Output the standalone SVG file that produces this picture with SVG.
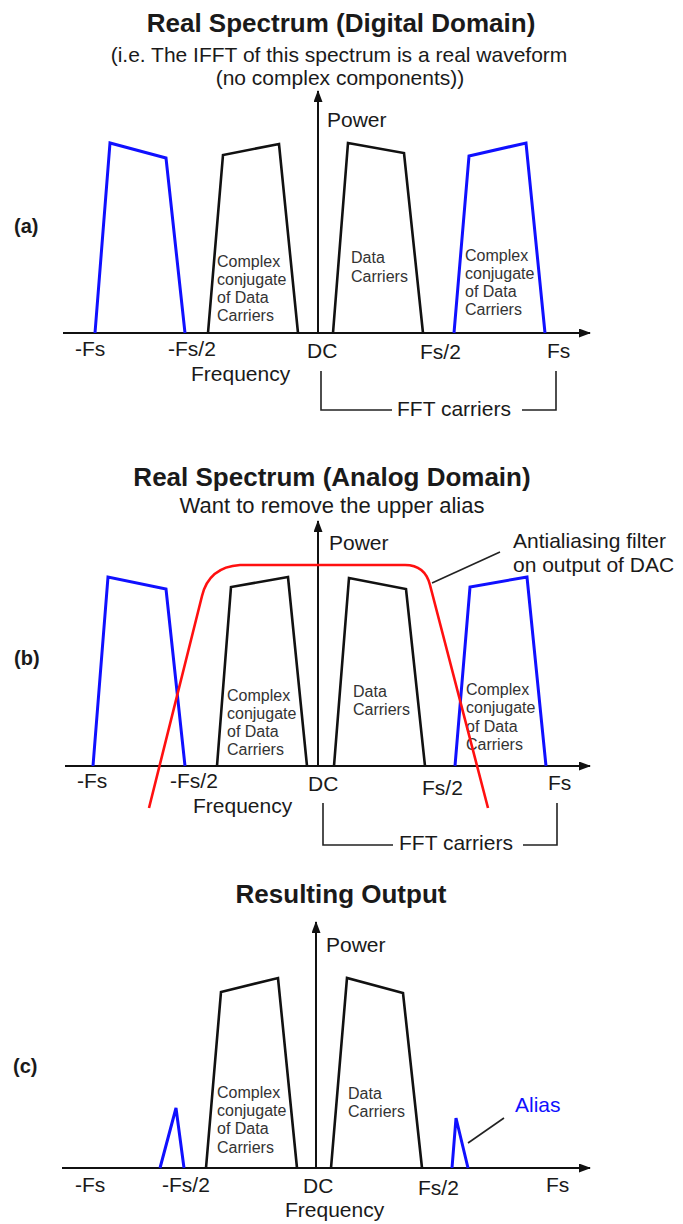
<svg xmlns="http://www.w3.org/2000/svg" width="683" height="1224" viewBox="0 0 683 1224">
<defs>
<marker id="arr" markerWidth="12" markerHeight="10" refX="11" refY="4.5" orient="auto" markerUnits="userSpaceOnUse">
<path d="M0,0 L12,4.5 L0,9 z" fill="#111"/>
</marker>
<style>
text{font-family:"Liberation Sans",Arial,Helvetica,sans-serif;fill:#1a1a1a}
.title{font-size:26px;font-weight:bold;text-anchor:middle}
.sub{font-size:22px;text-anchor:middle}
.sub2{font-size:21px;text-anchor:middle}
.lab{font-size:21px}
.pl{font-size:20px;font-weight:bold}
.sm{font-size:16px;fill:#333}
.blt{font-size:21px;fill:#1010ff}
.axis{stroke:#111;stroke-width:2;fill:none}
.blk{stroke:#111;stroke-width:2.6;fill:none;stroke-linejoin:miter}
.blu{stroke:#1010ff;stroke-width:3;fill:none;stroke-linejoin:miter}
.red{stroke:#ff1010;stroke-width:2.6;fill:none}
.thin{stroke:#222;stroke-width:1.6;fill:none}
</style>
</defs>
<rect width="683" height="1224" fill="#fff"/>

<!-- Panel (a) -->
<g id="panel-a">
<text class="title" x="341" y="32">Real Spectrum (Digital Domain)</text>
<text class="sub2" x="339" y="62">(i.e. The IFFT of this spectrum is a real waveform</text>
<text class="sub2" x="340" y="85">(no complex components))</text>
<text class="pl" x="14" y="233">(a)</text>
<g id="a-axes">
<line class="axis" x1="63" y1="333" x2="590" y2="333" marker-end="url(#arr)"/>
<line class="axis" x1="318" y1="334" x2="318" y2="91" marker-end="url(#arr)"/>
<text class="lab" x="327" y="127">Power</text>
</g>
<g id="a-alias-left"><polyline class="blu" points="95,333 110,143 166,158 185,333"/></g>
<g id="a-conj"><polyline class="blk" points="208,333 223,155 279,144 298,333"/>
<text class="sm" x="217" y="267">Complex</text><text class="sm" x="217" y="285">conjugate</text><text class="sm" x="217" y="303">of Data</text><text class="sm" x="217" y="321">Carriers</text></g>
<g id="a-data"><polyline class="blk" points="333,333 348,143 404,153 423,333"/>
<text class="sm" x="351" y="263">Data</text><text class="sm" x="351" y="282">Carriers</text></g>
<g id="a-alias-right"><polyline class="blu" points="454,333 469,156 526,143 545,333"/>
<text class="sm" x="465" y="261">Complex</text><text class="sm" x="465" y="279">conjugate</text><text class="sm" x="465" y="297">of Data</text><text class="sm" x="465" y="315">Carriers</text></g>
<g id="a-labels">
<text class="lab" x="75" y="356">-Fs</text>
<text class="lab" x="168" y="356">-Fs/2</text>
<text class="lab" x="307" y="358">DC</text>
<text class="lab" x="420" y="359">Fs/2</text>
<text class="lab" x="547" y="358">Fs</text>
<text class="lab" x="191" y="381">Frequency</text>
<text class="lab" x="397" y="416">FFT carriers</text>
</g>
</g>

<!-- Panel (b) -->
<g id="panel-b">
<text class="title" x="332" y="486">Real Spectrum (Analog Domain)</text>
<text class="sub" x="332" y="513">Want to remove the upper alias</text>
<text class="pl" x="14" y="665">(b)</text>
<g id="b-axes">
<line class="axis" x1="65" y1="766" x2="590" y2="766" marker-end="url(#arr)"/>
<line class="axis" x1="318" y1="767" x2="318" y2="521" marker-end="url(#arr)"/>
<text class="lab" x="329" y="550">Power</text>
</g>
<g id="b-alias-left"><polyline class="blu" points="93,766 108,577 166,589 185,766"/></g>
<g id="b-conj"><polyline class="blk" points="217,766 231,587 288,577 307,766"/>
<text class="sm" x="227" y="701">Complex</text><text class="sm" x="227" y="719">conjugate</text><text class="sm" x="227" y="737">of Data</text><text class="sm" x="227" y="755">Carriers</text></g>
<g id="b-data"><polyline class="blk" points="334,766 349,578 406,589 425,766"/>
<text class="sm" x="353" y="697">Data</text><text class="sm" x="353" y="715">Carriers</text></g>
<g id="b-alias-right"><polyline class="blu" points="455,766 470,587 527,577 546,766"/>
<text class="sm" x="466" y="695">Complex</text><text class="sm" x="466" y="713">conjugate</text><text class="sm" x="466" y="732">of Data</text><text class="sm" x="466" y="750">Carriers</text></g>
<g id="b-filter"><path class="red" d="M149,808 L202,596 Q209,567 240,565 L405,565 Q425,565 430,585 L488,808"/>
<text class="lab" x="513" y="548">Antialiasing filter</text>
<text class="lab" x="513" y="572">on output of DAC</text></g>
<g id="b-labels">
<text class="lab" x="77" y="788">-Fs</text>
<text class="lab" x="170" y="788">-Fs/2</text>
<text class="lab" x="308" y="791">DC</text>
<text class="lab" x="422" y="795">Fs/2</text>
<text class="lab" x="548" y="790">Fs</text>
<text class="lab" x="193" y="813">Frequency</text>
<text class="lab" x="399" y="850">FFT carriers</text>
</g>
</g>

<!-- Panel (c) -->
<g id="panel-c">
<text class="title" x="341" y="903">Resulting Output</text>
<text class="pl" x="13" y="1073">(c)</text>
<g id="c-axes">
<line class="axis" x1="62" y1="1168" x2="590" y2="1168" marker-end="url(#arr)"/>
<line class="axis" x1="316" y1="1169" x2="316" y2="922" marker-end="url(#arr)"/>
<text class="lab" x="326" y="952">Power</text>
</g>
<g id="c-alias-left"><polyline class="blu" points="160,1168 176,1108 184,1168"/></g>
<g id="c-conj"><polyline class="blk" points="206,1168 221,992 278,978 297,1168"/>
<text class="sm" x="217" y="1098">Complex</text><text class="sm" x="217" y="1116">conjugate</text><text class="sm" x="217" y="1134">of Data</text><text class="sm" x="217" y="1153">Carriers</text></g>
<g id="c-data"><polyline class="blk" points="331,1168 347,978 403,993 422,1168"/>
<text class="sm" x="348" y="1099">Data</text><text class="sm" x="348" y="1117">Carriers</text></g>
<g id="c-alias-right"><polyline class="blu" points="452,1168 456,1118 468,1168"/>
<text class="blt" x="515" y="1112">Alias</text></g>
<g id="c-labels">
<text class="lab" x="75" y="1192">-Fs</text>
<text class="lab" x="162" y="1192">-Fs/2</text>
<text class="lab" x="303" y="1193">DC</text>
<text class="lab" x="418" y="1195">Fs/2</text>
<text class="lab" x="546" y="1192">Fs</text>
<text class="lab" x="285" y="1217">Frequency</text>
</g>
</g>

<!-- Connectors -->
<g id="connectors">
<path class="thin" d="M321,371 V410 H392"/>
<path class="thin" d="M522,410 H556 V371"/>
<path class="thin" d="M323,803 V845 H393"/>
<path class="thin" d="M523,845 H557 V803"/>
<line class="thin" x1="432" y1="583" x2="500" y2="552"/>
<line class="thin" x1="468" y1="1143" x2="504" y2="1118"/>
</g>
</svg>
